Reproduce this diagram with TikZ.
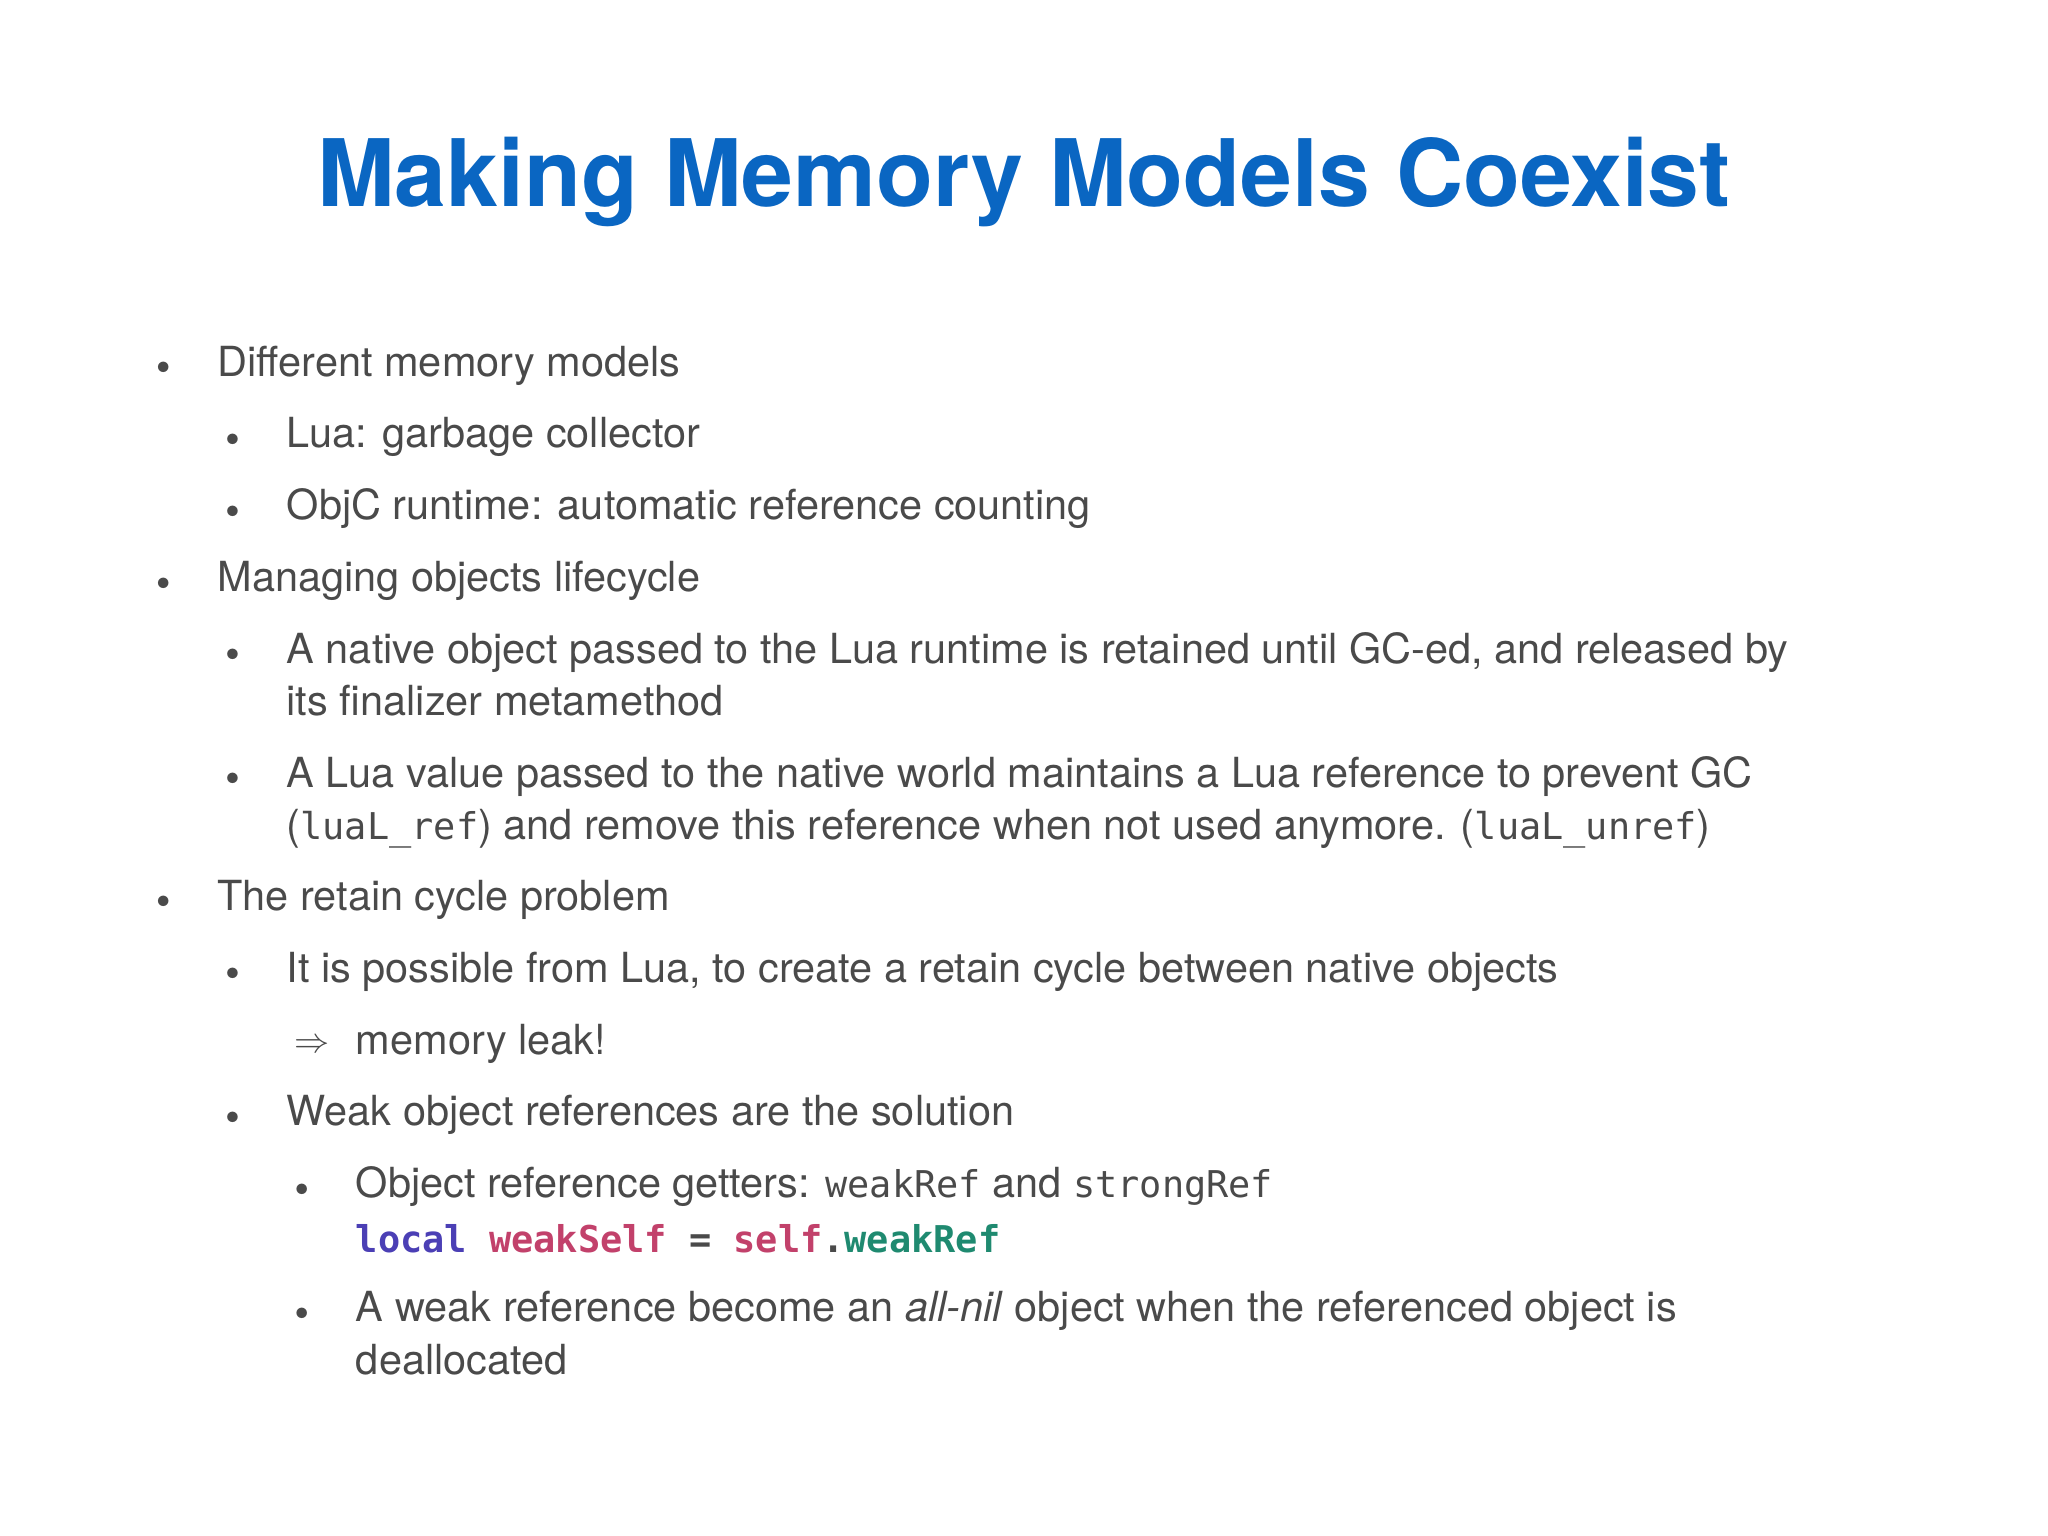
\documentclass[tikz,border=0pt]{standalone}
\usepackage{fontspec}
\setmainfont{TeX Gyre Heros}
\setmonofont{DejaVu Sans Mono}
\usetikzlibrary{positioning}
\definecolor{titleblue}{HTML}{0A66C2}
\definecolor{bodygray}{HTML}{4A4A4A}
\definecolor{kwpurple}{HTML}{4B3FB5}
\definecolor{varpink}{HTML}{C2416B}
\definecolor{fldgreen}{HTML}{1F8A70}
\tikzstyle{title} = [anchor=base, font=\bfseries\fontsize{26.5}{30}\selectfont, text=titleblue, inner sep=0]
\tikzstyle{itemtext} = [anchor=base west, font=\fontsize{11.8}{14}\selectfont, text=bodygray, inner sep=0]
\tikzstyle{dot} = [anchor=base, font=\fontsize{7}{8}\selectfont, text=bodygray, inner sep=0]
\newcommand{\cd}[1]{{\ttfamily\fontsize{10.5}{12}\selectfont #1}}
\begin{document}
\begin{tikzpicture}[x=0.013061cm, y=-0.013061cm]
        \useasboundingbox (0,0) rectangle (1568,1176);
        \node [title] (heading) at (784,158) {Making Memory Models Coexist};

        % bullets
        \foreach \bx/\by [count=\i] in {125/286, 178/341, 178/396, 125/451, 178/506, 178/601,
                125/695, 178/750, 178/860, 231/915, 231/1010}
            \node [dot] (b\i) at (\bx,\by) {$\bullet$};
        \node [dot, font=\fontsize{10}{12}\selectfont] (arrow) at (239,806) {$\Rightarrow$};

        \node [itemtext] (diff) at (166,288) {Different memory models};
        \node [itemtext] (lua) at (219,343) {Lua: garbage collector};
        \node [itemtext] (objc) at (219,398) {ObjC runtime: automatic reference counting};
        \node [itemtext] (manage) at (166,453) {Managing objects lifecycle};
        \node [itemtext] (nativeA) at (219,508) {A native object passed to the Lua runtime is retained until GC-ed, and released by};
        \node [itemtext] (nativeB) at (219,548) {its finalizer metamethod};
        \node [itemtext] (luavalA) at (219,603) {A Lua value passed to the native world maintains a Lua reference to prevent GC};
        \node [itemtext] (luavalB) at (219,643) {(\cd{luaL\_ref}) and remove this reference when not used anymore. (\cd{luaL\_unref})};
        \node [itemtext] (cycle) at (166,697) {The retain cycle problem};
        \node [itemtext] (possible) at (219,752) {It is possible from Lua, to create a retain cycle between native objects};
        \node [itemtext] (leak) at (272,807) {memory leak!};
        \node [itemtext] (weak) at (219,862) {Weak object references are the solution};
        \node [itemtext] (getters) at (272,917) {Object reference getters: \cd{weakRef} and \cd{strongRef}};
        \node [itemtext] (code) at (272,959) {\cd{\bfseries\textcolor{kwpurple}{local} \textcolor{varpink}{weakSelf} \textcolor{bodygray}{=} \textcolor{varpink}{self}\textcolor{bodygray}{.}\textcolor{fldgreen}{weakRef}}};
        \node [itemtext] (nilA) at (272,1012) {A weak reference become an \textit{all-nil} object when the referenced object is};
        \node [itemtext] (nilB) at (272,1052) {deallocated};
    \end{tikzpicture}
\end{document}
